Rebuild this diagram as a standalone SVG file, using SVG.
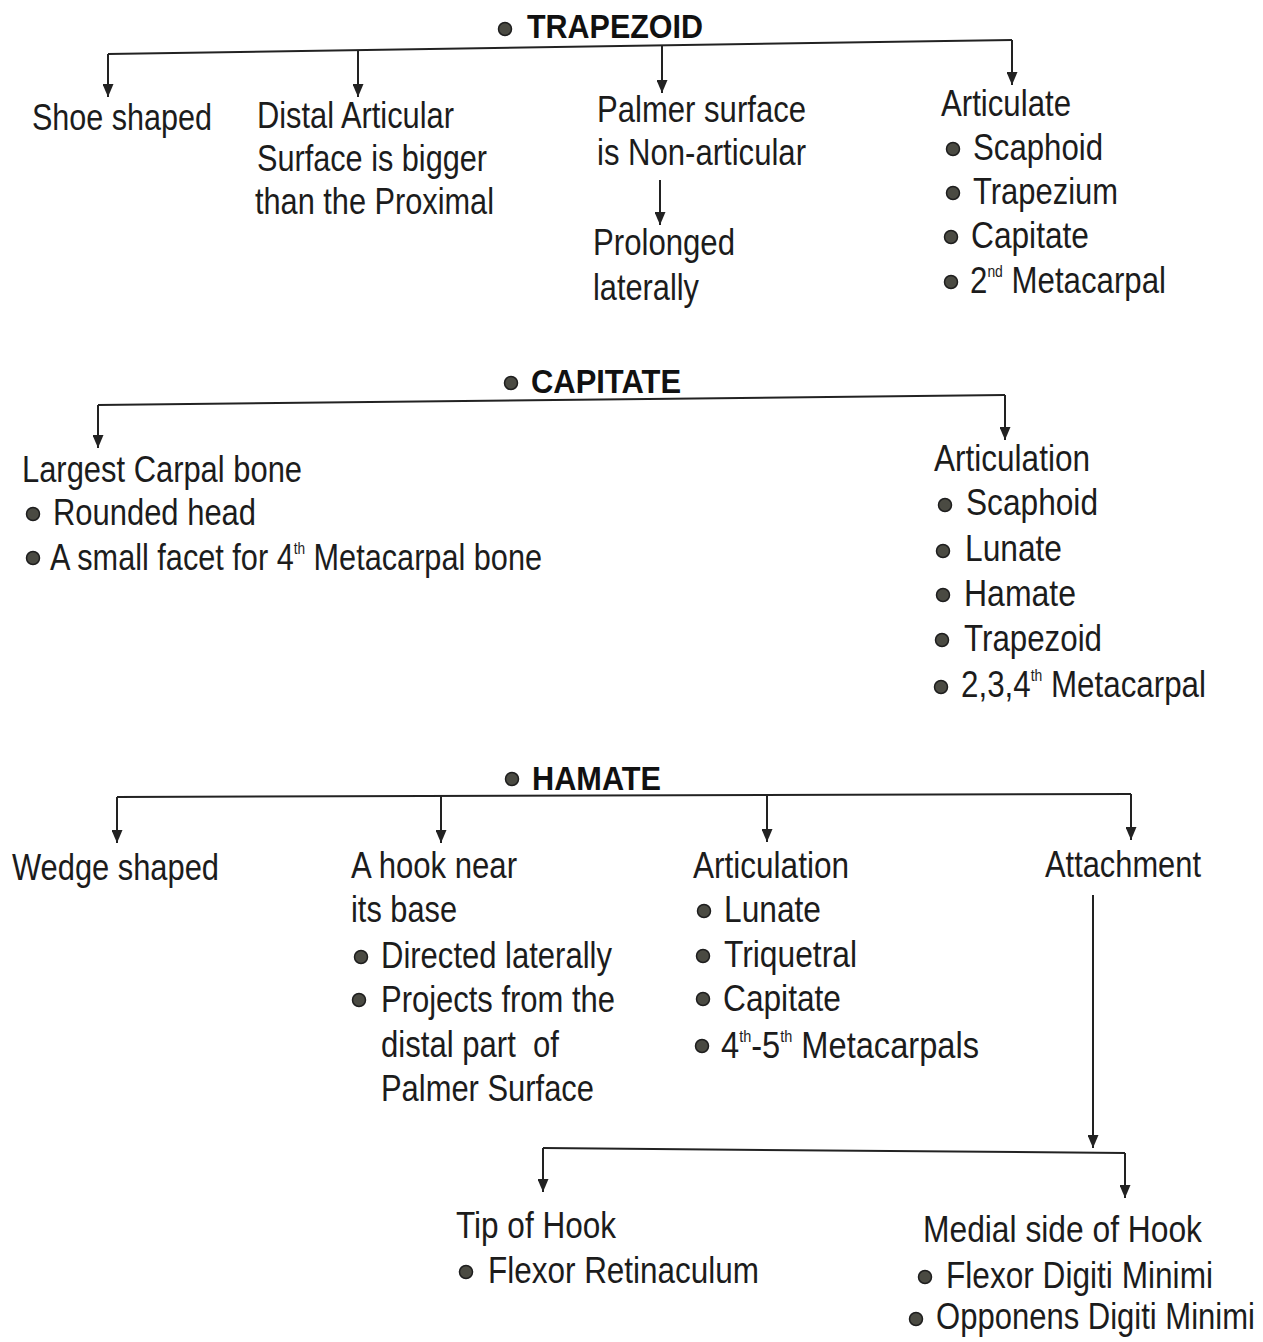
<svg xmlns="http://www.w3.org/2000/svg" width="1263" height="1342" viewBox="0 0 1263 1342">
<defs>
<style>
.t{font-family:"Liberation Sans Narrow","Liberation Sans",Arial,sans-serif;font-size:36px;fill:#1c1c1c}
.h{font-family:"Liberation Sans Narrow","Liberation Sans",Arial,sans-serif;font-size:34px;font-weight:bold;fill:#111}
.s{font-size:16px}
.b{fill:#4a4a42;stroke:#1e1e1e;stroke-width:1.5}
.c{fill:none;stroke:#222;stroke-width:2}
.a{fill:none;stroke:#222;stroke-width:2;marker-end:url(#arr)}
</style>
<marker id="arr" viewBox="0 0 13 11" refX="13" refY="5.5" markerWidth="13" markerHeight="11" markerUnits="userSpaceOnUse" orient="auto">
<path d="M0,0 L13,5.5 L0,11 z" fill="#222"/>
</marker>
</defs>
<rect width="1263" height="1342" fill="#fff"/>

<g id="connectors">
<path class="c" d="M108,54 L1012,40"/>
<path class="a" d="M108,54 V97"/>
<path class="a" d="M358,50 V97"/>
<path class="a" d="M662,45 V93"/>
<path class="a" d="M1012,40 V85"/>
<path class="a" d="M660,180 V225"/>
<path class="c" d="M98,405 L1005,395"/>
<path class="a" d="M98,405 V448"/>
<path class="a" d="M1005,395 V440"/>
<path class="c" d="M117,797 L1131,794"/>
<path class="a" d="M117,797 V843"/>
<path class="a" d="M441,796 V843"/>
<path class="a" d="M767,795 V842"/>
<path class="a" d="M1131,794 V840"/>
<path class="a" d="M1093,895 V1148"/>
<path class="c" d="M543,1148 L1125,1153"/>
<path class="a" d="M543,1148 V1192"/>
<path class="a" d="M1125,1153 V1198"/>
</g>

<g id="trapezoid">
<circle class="b" cx="505" cy="29" r="6.5"/>
<text class="h" x="527" y="38" textLength="176" lengthAdjust="spacingAndGlyphs">TRAPEZOID</text>
</g>
<g id="shoe-shaped">
<text class="t" x="32" y="130" textLength="180" lengthAdjust="spacingAndGlyphs">Shoe shaped</text>
</g>
<g id="distal-articular">
<text class="t" x="257" y="128" textLength="197" lengthAdjust="spacingAndGlyphs">Distal Articular</text>
<text class="t" x="257" y="171" textLength="230" lengthAdjust="spacingAndGlyphs">Surface is bigger</text>
<text class="t" x="255" y="214" textLength="239" lengthAdjust="spacingAndGlyphs">than the Proximal</text>
</g>
<g id="palmer-surface">
<text class="t" x="597" y="122" textLength="209" lengthAdjust="spacingAndGlyphs">Palmer surface</text>
<text class="t" x="597" y="165" textLength="209" lengthAdjust="spacingAndGlyphs">is Non-articular</text>
</g>
<g id="prolonged">
<text class="t" x="593" y="255" textLength="142" lengthAdjust="spacingAndGlyphs">Prolonged</text>
<text class="t" x="593" y="300" textLength="106" lengthAdjust="spacingAndGlyphs">laterally</text>
</g>
<g id="articulate">
<text class="t" x="941" y="116" textLength="130" lengthAdjust="spacingAndGlyphs">Articulate</text>
<circle class="b" cx="953" cy="149" r="6.5"/>
<text class="t" x="973" y="160" textLength="130" lengthAdjust="spacingAndGlyphs">Scaphoid</text>
<circle class="b" cx="953" cy="193" r="6.5"/>
<text class="t" x="973" y="204" textLength="145" lengthAdjust="spacingAndGlyphs">Trapezium</text>
<circle class="b" cx="951" cy="237" r="6.5"/>
<text class="t" x="971" y="248" textLength="118" lengthAdjust="spacingAndGlyphs">Capitate</text>
<circle class="b" cx="951" cy="282" r="6.5"/>
<text class="t" x="970" y="293" textLength="196" lengthAdjust="spacingAndGlyphs">2<tspan class="s" dy="-16">nd</tspan><tspan dy="16"> Metacarpal</tspan></text>
</g>

<g id="capitate">
<circle class="b" cx="511" cy="383" r="6.5"/>
<text class="h" x="531" y="393" textLength="150" lengthAdjust="spacingAndGlyphs">CAPITATE</text>
</g>
<g id="largest-carpal">
<text class="t" x="22" y="482" textLength="280" lengthAdjust="spacingAndGlyphs">Largest Carpal bone</text>
<circle class="b" cx="33" cy="514" r="6.5"/>
<text class="t" x="53" y="525" textLength="203" lengthAdjust="spacingAndGlyphs">Rounded head</text>
<circle class="b" cx="33" cy="558" r="6.5"/>
<text class="t" x="50" y="570" textLength="492" lengthAdjust="spacingAndGlyphs">A small facet for 4<tspan class="s" dy="-16">th</tspan><tspan dy="16"> Metacarpal bone</tspan></text>
</g>
<g id="capitate-articulation">
<text class="t" x="934" y="471" textLength="156" lengthAdjust="spacingAndGlyphs">Articulation</text>
<circle class="b" cx="945" cy="505" r="6.5"/>
<text class="t" x="966" y="515" textLength="132" lengthAdjust="spacingAndGlyphs">Scaphoid</text>
<circle class="b" cx="943" cy="551" r="6.5"/>
<text class="t" x="965" y="561" textLength="97" lengthAdjust="spacingAndGlyphs">Lunate</text>
<circle class="b" cx="943" cy="595" r="6.5"/>
<text class="t" x="964" y="606" textLength="112" lengthAdjust="spacingAndGlyphs">Hamate</text>
<circle class="b" cx="942" cy="640" r="6.5"/>
<text class="t" x="964" y="651" textLength="138" lengthAdjust="spacingAndGlyphs">Trapezoid</text>
<circle class="b" cx="941" cy="687" r="6.5"/>
<text class="t" x="961" y="697" textLength="245" lengthAdjust="spacingAndGlyphs">2,3,4<tspan class="s" dy="-16">th</tspan><tspan dy="16"> Metacarpal</tspan></text>
</g>

<g id="hamate">
<circle class="b" cx="512" cy="779" r="6.5"/>
<text class="h" x="532" y="790" textLength="129" lengthAdjust="spacingAndGlyphs">HAMATE</text>
</g>
<g id="wedge-shaped">
<text class="t" x="12" y="880" textLength="207" lengthAdjust="spacingAndGlyphs">Wedge shaped</text>
</g>
<g id="hook-near-base">
<text class="t" x="351" y="878" textLength="166" lengthAdjust="spacingAndGlyphs">A hook near</text>
<text class="t" x="351" y="922" textLength="106" lengthAdjust="spacingAndGlyphs">its base</text>
<circle class="b" cx="361" cy="957" r="6.5"/>
<text class="t" x="381" y="968" textLength="231" lengthAdjust="spacingAndGlyphs">Directed laterally</text>
<circle class="b" cx="359" cy="1000" r="6.5"/>
<text class="t" x="381" y="1012" textLength="234" lengthAdjust="spacingAndGlyphs">Projects from the</text>
<text class="t" x="381" y="1057" textLength="178" lengthAdjust="spacingAndGlyphs" xml:space="preserve">distal part  of</text>
<text class="t" x="381" y="1101" textLength="213" lengthAdjust="spacingAndGlyphs">Palmer Surface</text>
</g>
<g id="hamate-articulation">
<text class="t" x="693" y="878" textLength="156" lengthAdjust="spacingAndGlyphs">Articulation</text>
<circle class="b" cx="704" cy="911" r="6.5"/>
<text class="t" x="724" y="922" textLength="97" lengthAdjust="spacingAndGlyphs">Lunate</text>
<circle class="b" cx="703" cy="956" r="6.5"/>
<text class="t" x="724" y="967" textLength="133" lengthAdjust="spacingAndGlyphs">Triquetral</text>
<circle class="b" cx="703" cy="999" r="6.5"/>
<text class="t" x="723" y="1011" textLength="118" lengthAdjust="spacingAndGlyphs">Capitate</text>
<circle class="b" cx="702" cy="1046" r="6.5"/>
<text class="t" x="721" y="1058" textLength="258" lengthAdjust="spacingAndGlyphs">4<tspan class="s" dy="-16">th</tspan><tspan dy="16">-5</tspan><tspan class="s" dy="-16">th</tspan><tspan dy="16"> Metacarpals</tspan></text>
</g>
<g id="attachment">
<text class="t" x="1045" y="877" textLength="156" lengthAdjust="spacingAndGlyphs">Attachment</text>
</g>
<g id="tip-of-hook">
<text class="t" x="456" y="1238" textLength="160" lengthAdjust="spacingAndGlyphs">Tip of Hook</text>
<circle class="b" cx="466" cy="1272" r="6.5"/>
<text class="t" x="488" y="1283" textLength="271" lengthAdjust="spacingAndGlyphs">Flexor Retinaculum</text>
</g>
<g id="medial-side-of-hook">
<text class="t" x="923" y="1242" textLength="279" lengthAdjust="spacingAndGlyphs">Medial side of Hook</text>
<circle class="b" cx="925" cy="1277" r="6.5"/>
<text class="t" x="946" y="1288" textLength="267" lengthAdjust="spacingAndGlyphs">Flexor Digiti Minimi</text>
<circle class="b" cx="916" cy="1319" r="6.5"/>
<text class="t" x="936" y="1329" textLength="319" lengthAdjust="spacingAndGlyphs">Opponens Digiti Minimi</text>
</g>
</svg>
